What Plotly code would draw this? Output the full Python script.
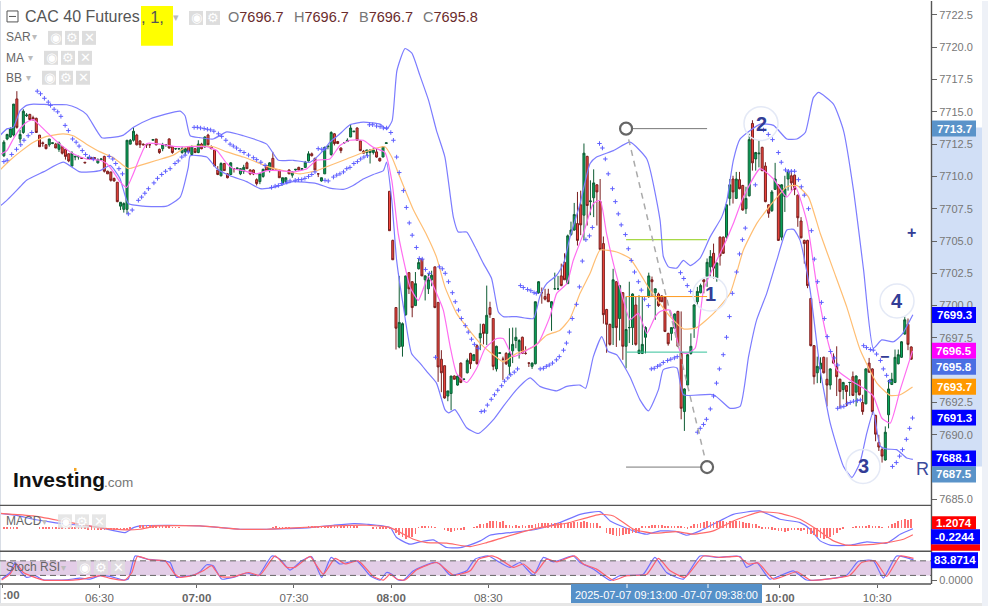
import plotly.graph_objects as go

# ---------- candles: one per minute, minutes are counted from 06:00 ----------
opens = [
7711.6,7712.9,7713.05,7713.2,7716.0,7712.9,7713.4,7714.7,7714.8,7714.55,
7714.5,7713.2,7712.6,7712.45,7712.45,7712.55,7712.5,7712.1,7712.3,7712.1,
7711.75,7710.8,7711.5,7711.5,7711.45,7711.1,7711.4,7711.45,7711.45,7711.05,
7711.3,7711.55,7710.4,7710.35,7709.85,7709.55,7707.7,7707.45,7707.45,7712.5,
7712.8,7713.2,7712.75,7712.5,7712.45,7712.45,7712.8,7712.9,7712.1,7712.15,
7712.45,7712.9,7712.3,7712.15,7712.15,7711.85,7711.9,7712.3,7711.7,7712.15,
7711.85,7712.5,7712.3,7713.2,7712.3,7712.05,7710.5,7710.05,7711.0,7710.2,
7710.15,7710.6,7710.6,7710.2,7710.4,7711.05,7710.5,7710.5,7709.75,7709.6,
7710.0,7710.85,7710.45,7711.4,7710.5,7710.5,7709.45,7709.6,7710.5,7710.1,
7710.5,7710.7,7710.55,7710.7,7711.2,7711.75,7711.4,7710.2,7709.65,7710.2,
7712.3,7711.7,7713.3,7712.7,7712.2,7712.6,7712.7,7713.05,7713.45,7713.75,
7712.75,7711.95,7711.85,7711.85,7711.85,7711.9,7711.4,7711.5,7712.55,7708.85,
7705.05,7699.85,7696.8,7696.85,7699.3,7702.55,7701.85,7700,7702.85,7703.6,
7702,7701.3,7702,7703,7700.25,7695.85,7695.35,7693,7693.2,7694.55,
7693.85,7695.55,7694.3,7694.8,7696.3,7695.75,7696.9,7697.5,7698.55,7697.85,
7699.85,7699,7695.1,7696.3,7695.85,7696.3,7695.3,7696.5,7697.3,7696.5,
7697.55,7696.3,7695.55,7695.3,7695.5,7701,7701,7700.7,7700.9,7699.85,
7701.3,7701.3,7702.3,7703.35,7701.7,7705.5,7705.85,7706.35,7707.8,7707,
7711.55,7708.05,7708.35,7709.35,7708.05,7704.8,7699.7,7698.55,7698.3,7701.85,
7699,7701,7696.85,7698.3,7698.3,7700.05,7696.3,7696.3,7697.55,7700.7,
7702,7701,7700.9,7700.75,7700.65,7697.85,7697.85,7698.25,7699.55,7696.3,
7691.8,7693.85,7696.3,7698.3,7700.3,7701,7702,7702.25,7703,7704.05,
7702.15,7705.3,7705.3,7705.3,7708.3,7709.8,7708.3,7709.75,7709.3,7707.5,
7708.5,7714.1,7711.35,7711.75,7712.25,7710.8,7707.8,7707.35,7709,7709.35,
7705.3,7708.45,7709.8,7710.05,7710.1,7708.55,7706.55,7705.05,7705.05,7700.55,
7696.9,7694.8,7695.1,7696,7694.3,7693.85,7695.85,7695.3,7694.3,7693.5,
7693.8,7694.05,7694.5,7693.3,7694.25,7692.5,7692.4,7695.55,7695.1,7691.5,
7689.4,7688.85,7688.05,7691.55,7693.9,7694.05,7695.5,7696,7697.8,7698.55,7696.8]
highs = [
7712.8,7713.3,7713.8,7715.6,7716.6,7713.6,7715.2,7714.9,7714.85,7714.7,
7714.55,7713.2,7712.7,7712.5,7712.9,7712.6,7712.6,7712.7,7712.3,7712.1,
7711.8,7711.95,7711.6,7711.6,7711.5,7711.1,7711.45,7711.5,7711.5,7711.4,
7711.4,7711.6,7710.45,7710.35,7709.9,7709.55,7708,7708,7712.8,7712.9,
7713.8,7713.3,7712.8,7712.55,7712.5,7712.5,7712.9,7712.9,7712.15,7712.6,
7712.5,7712.95,7712.35,7712.2,7712.2,7712.3,7712.2,7712.3,7712.4,7712.2,
7712.8,7712.6,7713.1,7713.3,7712.4,7712.1,7710.8,7711.1,7711.05,7710.25,
7711.1,7710.65,7710.65,7710.65,7710.9,7711.15,7710.55,7710.55,7709.85,7710.25,
7710.6,7710.9,7711.1,7711.9,7710.55,7710.55,7709.9,7709.9,7710.55,7710.4,
7710.55,7710.75,7710.65,7711.2,7711.95,7711.85,7711.45,7710.25,7709.9,7712.3,
7712.4,7713.5,7713.35,7712.75,7712.25,7712.65,7712.95,7714,7713.5,7713.8,
7712.8,7712.05,7712.05,7712.05,7712.2,7712.2,7711.45,7712.3,7712.6,7708.85,
7705.1,7699.85,7702.3,7698.7,7702.3,7702.6,7701.9,7702.6,7703.65,7703.6,
7702.35,7702.5,7702.7,7703,7700.25,7696.55,7695.35,7693.4,7694.55,7694.6,
7694.6,7695.6,7694.35,7695.9,7696.35,7696.25,7697,7698.6,7698.6,7701.55,
7700.3,7699,7696.9,7696.35,7696.05,7696.4,7698.25,7698.3,7698.3,7697.4,
7697.6,7696.85,7695.6,7695.6,7700.3,7701.9,7701.4,7701.3,7701.3,7700.35,
7702.55,7702.3,7703.25,7704.05,7705.5,7706.5,7707.95,7708.8,7708.9,7712.55,
7711.6,7709.7,7710.55,7709.4,7709.8,7705.35,7699.75,7698.6,7702.85,7701.9,
7701.6,7701.05,7700.7,7701.85,7700.95,7700.7,7700.8,7700.7,7698.4,7702.55,
7702.25,7701.35,7701,7700.8,7700.7,7697.9,7698.3,7699.4,7699.6,7699.55,
7693.6,7696.25,7697.85,7700.1,7701.45,7701.7,7702.05,7703.65,7704.3,7704.8,
7703.35,7705.35,7705.35,7707.85,7709.8,7710.05,7710.35,7710.35,7709.35,7709.2,
7713.3,7714.35,7711.9,7712.8,7712.3,7711.1,7707.85,7708.95,7711.05,7709.4,
7709.4,7710.05,7710.5,7710.45,7710.15,7708.6,7706.85,7705.1,7705.1,7700.6,
7696.95,7696.05,7696,7696.05,7696,7695.15,7696.3,7696.85,7694.35,7694.1,
7693.85,7694.1,7694.9,7694.6,7694.3,7693.1,7695.15,7695.95,7695.15,7691.55,
7690,7689.05,7690.65,7694.25,7694.8,7696.6,7696.6,7697.25,7699.15,7699,7696.85]
lows = [
7711.5,7712.8,7713,7713.1,7713.7,7712.6,7713.3,7714.6,7714.35,7714.3,
7713.4,7712.3,7712.3,7712.1,7712.3,7712.5,7712.2,7711.9,7711.7,7711.3,
7711.1,7710.8,7711.25,7711.3,7711.35,7711.05,7711.35,7711.35,7711.3,7711,
7711.25,7710.3,7710.2,7709.6,7709.6,7708,7707.4,7707.2,7707.1,7712.5,
7712.7,7712.4,7712.2,7712.4,7712.2,7712.2,7712.8,7712.4,7711.75,7711.95,
7712.3,7712.15,7711.75,7712.05,7712.05,7711.75,7711.7,7711.85,7711.6,7711.8,
7711.8,7712.1,7712.2,7712.4,7712.1,7710.8,7710.1,7710,7710.45,7709.85,
7710.1,7710.3,7710.55,7710.1,7710.2,7710.6,7710.1,7710.1,7709.3,7709.4,
7709.9,7710.45,7710.3,7710.55,7710.45,7709.9,7709.3,7709.45,7710.2,7709.9,
7710.45,7710.5,7710.5,7710.65,7711.15,7711.55,7710.5,7709.95,7709.6,7710.2,
7712.1,7711.6,7712.4,7712.5,7711.8,7712.6,7712.7,7713.05,7713.45,7712.75,
7711.95,7711.8,7711.6,7711,7711.7,7711.45,7711.15,7711.5,7712.55,7705.8,
7703.55,7696.6,7696.7,7696.05,7699.2,7700.9,7699.1,7700,7702.8,7702.3,
7700.4,7700.9,7701.5,7699.8,7694.1,7693.3,7692.8,7692.6,7691.9,7694.3,
7693.8,7694,7694.3,7694.75,7695.1,7695.7,7695.45,7696.55,7697,7696.95,
7699.05,7695,7694.9,7696.3,7694.25,7695.4,7694.6,7695.55,7696.7,7695.9,
7696.25,7696.2,7695.25,7695.1,7695.45,7700.9,7700.15,7700.4,7700.3,7698.05,
7701.25,7701.2,7701.5,7702,7701.7,7705.4,7705.8,7704.65,7705.45,7705.05,
7706.2,7707,7706.85,7706.2,7704.3,7698.6,7696.35,7696.9,7696.95,7696.8,
7697.3,7695.8,7695.15,7697.1,7696.95,7696.9,7696.25,7696.25,7696.3,7700.6,
7700.7,7698.9,7699.9,7700.3,7697.95,7696.9,7697.3,7698.2,7696.8,7691.2,
7690.3,7693.8,7696.2,7697.5,7700.05,7700.95,7700.95,7701.45,7702.25,7702.1,
7701.85,7703.1,7704,7705.05,7707.75,7707.9,7708.25,7709,7707.35,7707.1,
7708.45,7710.45,7710.45,7710.7,7710.4,7708,7706.8,7707.25,7708.95,7705,
7705.05,7707.25,7708.9,7708.9,7708.55,7706.1,7705.2,7703.25,7701.35,7696.85,
7693.9,7694,7694,7694.75,7692.2,7693.5,7695.5,7693,7692.05,7692.75,
7692.2,7693,7693,7692.2,7693.05,7691.55,7692.35,7694.8,7691.55,7689.5,
7688.75,7687.85,7688,7690.5,7693.85,7694,7695.45,7695.95,7697.75,7696.55,7695.8]
closes = [
7712.65,7713.25,7713.7,7715.6,7713.8,7713.25,7715.05,7714.75,7714.4,7714.4,
7713.4,7712.3,7712.55,7712.15,7712.9,7712.6,7712.2,7712.6,7711.8,7711.55,
7711.2,7711.8,7711.55,7711.55,7711.4,7711.05,7711.45,7711.4,7711.4,7711.3,
7711.35,7710.4,7710.2,7709.7,7709.65,7708.05,7708,7707.9,7712.8,7712.8,
7713.5,7712.45,7712.45,7712.45,7712.45,7712.45,7712.85,7712.45,7711.85,7712.45,
7712.45,7712.2,7711.85,7712.15,7712.15,7712.15,7712.15,7711.9,7712.3,7711.85,
7712.5,7712.15,7713.05,7712.45,7712.15,7710.8,7710.15,7711,7710.45,7709.9,
7711.05,7710.6,7710.65,7710.6,7710.7,7710.6,7710.2,7710.2,7709.45,7710.2,
7710.55,7710.45,7711.05,7710.55,7710.5,7709.9,7709.9,7709.9,7710.2,7710.35,
7710.55,7710.5,7710.6,7711.1,7711.75,7711.6,7710.5,7710.2,7709.9,7712.25,
7712.35,7713.4,7712.55,7712.55,7712,7712.6,7712.8,7713.75,7713.5,7712.8,
7712,7711.8,7712.05,7712.05,7712.05,7711.5,7711.2,7712.3,7712.6,7705.8,
7703.55,7698.25,7698.7,7698.6,7702.3,7701.3,7699.85,7701.7,7703.33,7702.3,
7702.3,7702,7702.35,7699.85,7695.25,7694.8,7692.85,7693.4,7694.55,7694.3,
7694.55,7694.05,7694.3,7695.75,7695.5,7696.2,7695.5,7697.85,7697.85,7699.25,
7699.3,7695.3,7696.85,7696.35,7695.85,7695.5,7696.3,7697,7697.55,7697.3,
7696.3,7696.3,7695.55,7695.55,7700.3,7701.85,7701,7700.5,7700.3,7700.3,
7701.3,7701.3,7701.55,7702,7705.4,7705.85,7707.05,7705.05,7706.25,7711.8,
7707.75,7708.1,7709.5,7708.8,7704.35,7699.3,7698.55,7697,7702,7698.3,
7701.55,7696.85,7698.15,7698.3,7700.9,7697,7696.55,7697,7698.3,7702.3,
7701.85,7701.3,7700,7700.3,7698,7697.05,7698.3,7699.35,7696.85,7692.05,
7693.55,7696.2,7696.85,7700.05,7701.1,7701.55,7701.85,7703.35,7703.8,7702.9,
7703.3,7703.85,7704.05,7707.8,7709.35,7708.8,7709.8,7709.05,7707.4,7708.3,
7712.85,7711.05,7711.85,7711.8,7710.45,7708.05,7707.15,7708.8,7709.8,7705.05,
7709.35,7709.05,7710.35,7709.5,7709,7706.8,7705.25,7704.8,7701.55,7696.9,
7694.5,7695.3,7695.55,7694.8,7693.85,7695.1,7695.55,7694.5,7693.35,7694.05,
7693.35,7694.05,7693.05,7694.55,7693.1,7691.8,7695.1,7694.85,7691.8,7690.05,
7689.05,7688.35,7690.2,7693.55,7694.3,7696,7696.2,7697.2,7698.9,7697,7695.85]
candle_minutes = [i + 0.5 for i in range(len(opens))]

# ---------- Bollinger bands ----------
bb_up_t = [-0.7,1.4,3.4,5.5,7.5,9.6,14.7,19.9,23,26,30.7,33.3,37.4,40.5,45.6,54.9,56.4,58,61,65.1,69.3,74.4,81.6,85.2,89.8,95,99.6,
101.1,104.2,107.3,111.4,116.6,118.6,120.3,121.8,124.3,126.4,128.9,131.6,134,136.6,139.2,140.7,143.3,145.9,148.5,151,153.1,154.6,158.7,163.9,165.9,168,171.1,173.2,175.2,178.3,181.4,183.4,188.6,193.7,198.9,
203,204,205.6,208.1,210.2,212.3,215.3,218.4,222,223.6,225.6,227.7,233.9,238,242.1,245.2,247.8,250.3,251.9,256.5,259.6,262.7,265.8,268.8,271.4,275,277.6,281]
bb_up_v = [7713.17,7713.68,7713.8,7715.1,7715.5,7715.6,7715.55,7715.55,7715.3,7714.8,7713,7713,7713.2,7713.8,7714.45,7715.05,7714.7,7713.15,7713,7712.9,7713.45,7713.15,7712.5,7711.25,7711.25,7711.1,7712.15,
7712.65,7713.3,7714,7714.2,7714.05,7713.65,7714.3,7718.2,7719.9,7719.55,7717.8,7715.85,7713.55,7711.5,7706.85,7705.7,7705.7,7704.55,7703.25,7702.1,7699.5,7699.15,7699.15,7699,7700.7,7701.7,7702.35,7703.25,7705.3,7707.9,7711,7711.5,7712,7712.65,7711.35,
7706.6,7703.8,7703,7702.9,7703.5,7703.1,7703.65,7705.3,7706.85,7708.15,7711.25,7712.9,7714.05,7713.95,7712.9,7712.9,7713.4,7716.1,7716.5,7715.6,7713.55,7708.9,7702.75,7696.7,7697.35,7697.2,7697.75,7699.3]
bb_lo_t = [-0.7,1.4,3.4,5.5,7.5,12.7,18.8,24,30.2,33.3,36.3,38.9,43.5,50.7,54.9,57.4,58,63.1,66.2,70.3,75.4,79.6,83.7,89.8,97,
101.1,105.2,108.3,111.4,114.5,117.6,118.6,120.2,121.7,123.8,126.3,128.9,131.5,134,136.6,137.7,139.7,143.3,146.9,151.5,154.6,158.7,162.9,165.9,171.1,174.2,178.3,180,182.4,185,187,189.6,193.7,196.8,199.4,202.5,
204,207.1,208.3,210.2,219.5,224.6,227.7,230.3,232.8,235.9,239,242.1,244.2,246.2,249.3,252.4,255.5,259.6,262.2,264.7,266.8,268.8,270.9,273,276,279.1,281]
bb_lo_v = [7707.7,7708.15,7708.65,7709.2,7709.7,7710.35,7711.1,7710.35,7710.45,7710.85,7709.85,7707.9,7707.7,7707.7,7708.4,7710.7,7711.6,7711.5,7710.6,7710.05,7709.6,7709.05,7709.15,7709.6,7709.45,
7709.1,7709,7709.3,7709.8,7710.15,7710.45,7711.1,7708.15,7703.5,7699.9,7696.3,7695.55,7694.75,7694,7691.95,7691.7,7691.95,7690.55,7690.1,7691.15,7692.2,7693.5,7694.4,7693.75,7693.4,7693.75,7693.85,7693.6,7696.05,7697.6,7696.45,7696.2,7694.5,7692.7,7691.85,7693.5,
7695.05,7695.25,7695.15,7693.1,7693.1,7692.05,7692.2,7696.05,7698.9,7700.95,7703.5,7705.85,7705.9,7705.05,7701.2,7695.05,7690.9,7687.55,7686.7,7687.85,7690.15,7691.8,7689.15,7688.9,7688.85,7688.2,7688.1]

# ---------- moving averages ----------
ma_fast_t = [-0.7,1.4,3.4,5.5,7.5,9.6,11.6,14.7,17.8,21.9,26,30.2,32.2,34.3,36.3,38.4,40,42.5,44.6,48.7,53.8,58,63.1,66.2,69.3,71.3,74.4,78.5,81.6,85.7,89.8,94,97,
101.1,104.2,107.3,111.4,114.5,118.1,120.2,122.2,124.3,125.8,128.4,131.5,134,136.1,138.2,140.2,143.3,146.4,149,152.6,154.6,157.7,162.9,165.4,169,171.1,174.2,176.2,179.3,182.4,184.5,186.5,189.1,191.7,193.7,196.3,198.9,201.5,203,
206.1,209.2,211.2,213.8,216.4,219.5,222.5,225.6,228.7,233.9,238,242.1,244.7,248.3,251.4,254.4,257.5,261.6,265.8,268.8,271.4,274,277.1,280.9]
ma_fast_v = [7711.7,7712,7712.9,7713.7,7714.2,7714.4,7713.95,7713.2,7712.5,7711.75,7711.35,7711.25,7711,7710.35,7709.6,7709.15,7709.95,7711.5,7712.55,7712.5,7712.3,7712.3,7712.3,7712,7711,7710.6,7710.45,7710.2,7710.45,7710.45,7710.35,7710.6,7711.25,
7711.35,7712.4,7712.8,7712.8,7712.25,7711.85,7709.7,7705.55,7703,7701.45,7700.4,7702.25,7700.95,7699.65,7696.85,7694.75,7694.05,7695.15,7696.7,7697.45,7697.45,7696.05,7696.7,7697.1,7699.15,7700.95,7701.7,7703.5,7705.55,7707.9,7708.15,7705.55,7702.75,7700.4,7698.9,7699.4,7697.85,7699.15,7699.55,
7699.65,7696.45,7696.3,7696.7,7701.2,7703,7704.55,7706.35,7708.4,7710.6,7709.8,7708.4,7709.2,7706.5,7701.45,7697.6,7695.05,7694.25,7693.6,7693,7691.3,7690.9,7693.5,7696.5]
ma_slow_t = [-0.7,2.4,5.5,9.6,13.7,18.8,21.9,26,30.2,34.3,37.4,38.9,42.5,47.7,52.8,56.9,60,65.1,69.3,74.4,79.5,82.6,86.7,91.9,97,
101.1,106.3,111.4,118.1,120.2,122.7,126.9,131,134,136.6,140.2,143.3,147.4,151.5,154.6,158.7,163.9,168,172.1,175.2,178.3,181.4,184.5,189.6,193.7,196.8,199.9,203,
206.1,210.2,214.3,219.5,224.6,228.7,232.8,237,242.1,245.2,248.8,252.4,256.5,260.6,264.7,269.9,274,277.1,280.9]
ma_slow_v = [7710.5,7711.25,7711.9,7712.65,7713.1,7713.3,7713.15,7712.5,7711.9,7711.45,7710.85,7710.6,7710.85,7711.25,7711.65,7712.3,7712.35,7712.3,7711.9,7711.5,7711,7710.7,7710.45,7710.2,7710.45,
7710.85,7711.35,7711.85,7712.3,7711.5,7709.95,7707.4,7705.45,7703.75,7701.45,7699.4,7698.35,7697.1,7696.2,7695.65,7696.3,7696.8,7697.7,7698.1,7699,7700.95,7702.5,7704.3,7704.15,7703.65,7702.5,7701.2,7700.15,
7699.15,7698.2,7698.3,7699.4,7700.95,7704.3,7706.35,7707.75,7709.2,7709.3,7708.4,7705.6,7702.75,7699.9,7696.6,7694,7693.05,7693.1,7693.7]

# ---------- parabolic SAR ----------
sar_t = [0.5,1.5,2.9,4.4,5.7,6.7,8,9.1,10.8,11.8,13,14.2,14.9,16,17.1,18.1,19.4,20.4,21.7,22.8,23.7,24.7,25.7,26.9,28.1,33,34.1,35,36,37.1,
38.9,40.1,42,43,44,45.1,46.8,47.9,49.2,50.4,51.8,53.3,54.3,55.4,56.4,57.4,
59.2,60.2,61.2,62.3,63.3,64.3,65.3,66.7,67.7,69,70.3,71.3,72.3,73.4,74.6,76,77.5,78.5,79.8,81.1,
83.1,84.2,85.2,86.2,87.8,88.8,90.4,91.4,92.4,93.4,94.5,95.5,96.5,97.5,98.6,99.6,
99.6,100.6,102.2,103.2,104.2,105.3,106.3,107.3,108.5,109.6,110.6,111.6,112.7,
113.3,114.3,115.5,116.6,117.6,118.6,119.9,120.7,121.7,122.5,123.8,124.7,125.6,126.5,127.8,128.7,129.6,130.6,131.8,133.7,134.9,135.8,136.7,137.7,138.9,139.8,140.8,141.7,142.9,143.8,144.8,145.7,146.9,
147.8,148.8,149.7,150.9,151.9,152.9,154.1,155,156,156.9,158,159,
159.9,160.8,162.1,163.1,164.1,164.8,
166,167,167.9,168.8,169.8,171,171.9,173.2,174.1,175,175.9,177.2,178.1,179,180.1,181.2,182.1,
184.3,185.2,186.1,187,188.3,189.2,190.1,191,192.3,193.2,194.1,195.1,196.3,197.2,198.2,199.4,
200.3,201.2,202.2,203,204,205.3,206.3,207.4,208.3,
209.3,210.3,211.4,212.4,
214.5,215.4,216.4,217.3,218.5,219.5,220.4,221.3,222.5,223.5,224.4,225.3,226.6,227.5,228.4,229.3,232.4,
234.9,236.4,237.7,239.5,240.4,241.7,242.6,243.5,244.5,245.7,246.6,247.5,248.8,249.7,250.6,251.6,252.8,253.7,254.6,255.6,256.8,257.8,
257.8,258.8,259.7,260.8,261.7,262.7,263.9,264.8,
265.8,266.7,267.9,268.8,269.8,271,271.9,272.9,273.8,
274.7,275.9,276.9,277.8,279,280,280.9]
sar_v = [7711.15,7711.25,7711.7,7712.1,7712.45,7712.8,7713.15,7713.4,7716.6,7716.4,7716.05,7715.75,7715.5,7715.2,7715,7714.65,7713.95,7713.55,7712.9,7712.65,7712.35,7712,7711.7,7711.5,7711.35,7711.55,7711.35,7711,7710.6,7710.2,
7707.1,7707.4,7708.15,7708.4,7708.7,7709.05,7709.5,7709.85,7710.15,7710.4,7710.6,7711,7711.2,7711.5,7711.65,7711.9,
7713.8,7713.8,7713.75,7713.7,7713.65,7713.6,7713.5,7713.3,7713.1,7712.8,7712.5,7712.35,7712.2,7712,7711.85,7711.65,7711.45,7711.3,7711.1,7710.85,
7709.15,7709.25,7709.3,7709.45,7709.55,7709.65,7709.7,7709.75,7709.75,7709.85,7710,7710.15,7710.35,7712.15,7712.1,7712.15,
7709.7,7709.65,7709.95,7710.1,7710.2,7710.35,7710.6,7710.7,7711,7711.15,7711.35,7711.5,7711.6,
7714,7714,7713.9,7713.85,7713.75,7713.75,7713.4,7712.8,7711.5,7710.3,7708.9,7707.6,7706.4,7705.45,7704.5,7703.65,7703.6,7702.8,7702.5,7696,7703,7702.85,7702.5,7701.85,7701,7700.3,7699.65,7699,7698.45,7697.95,7697.4,7697,7696.7,
7691.8,7691.85,7692.3,7692.75,7693.1,7693.45,7693.8,7694.15,7694.4,7694.65,7694.85,7695.1,
7701.55,7701.4,7701.25,7701.15,7701,7700.95,
7695.1,7695.15,7695.3,7695.4,7695.55,7695.8,7696.05,7696.55,7697.1,7697.95,7699,7700.1,7701.45,7703.45,7705.1,7705.4,7706.05,
7712.55,7712.2,7711.35,7710.2,7709.05,7708.05,7707.1,7706.25,7705.5,7704.4,7703.5,7702.6,7701.85,7701.2,7700.5,7700,
7695.1,7695.15,7695.3,7695.4,7695.6,7695.75,7695.85,7695.95,7696.05,
7702.55,7702.1,7701.55,7701.1,
7690.2,7690.5,7690.8,7691.2,7692,7693,7694,7695.1,7696.2,7697.55,7699.15,7700.95,7702.6,7704,7705.1,7706,7709.35,
7713.6,7713.25,7712.85,7711.85,7711.1,7710.5,7710.4,7710.4,7710.4,7709.75,7709.2,7708.55,7707.5,7705.8,7703.6,7701.85,7700.25,7699,7697.6,7696.45,7695.95,7695.4,
7692.05,7692.15,7692.2,7692.4,7692.5,7692.6,7692.65,7692.7,
7696.9,7696.75,7696.6,7696.55,7696.25,7695.75,7695.1,7694.6,7694.15,
7687.55,7687.85,7688.35,7688.85,7689.65,7690.5,7691.3]

# ---------- drawing tool ----------
tool_t = [192.5, 217.5]
tool_ends = [7713.7, 7687.5]
fib_levels = [7713.7, 7705.1, 7700.7, 7696.4, 7687.5]
fib_colors = ["#777777", "#8fce12", "#ff9a1f", "#35c29a", "#777777"]

# ---------- MACD ----------
macd_t = [-0.7,4.4,9.6,14.7,19.9,25,30.2,37.9,40.5,42.5,50.7,61,67.2,73.4,81.6,87.8,95,102.2,108.4,112.5,119.7,121.7,125.8,128.9,133,137.2,141.3,144.4,147.5,150.5,
153.6,159.8,164.9,172.1,178.3,184.5,187.6,194.8,198.9,203,208.1,211.2,215.3,219.4,225.6,233.8,240,246.2,249.3,252.4,255.5,261.6,266.8,272.9,277.1,281]
macd_v = [2.88,2.48,1.68,1.15,0.68,0.48,0.01,-0.99,0.01,0.35,0.48,0.35,0.01,-0.32,-0.32,-0.19,0.01,0.48,0.81,0.68,0.01,-1.99,-3.32,-2.85,-2.45,-3.99,-3.99,-3.45,-2.65,-1.52,
-1.19,-0.79,-0.32,1.01,2.68,3.21,1.35,-0.65,-1.32,-0.65,-0.79,-1.52,-0.65,0.68,2.68,3.35,1.68,1.01,-0.32,-2.65,-3.52,-3.52,-2.85,-3.12,-1.32,-0.22]
signal_t = [-0.7,9.6,19.9,30.2,37.9,42.5,47.7,61,73.4,81.6,91.9,102.2,112.5,119.7,126.9,131,137.2,144.4,149.5,
153.6,159.8,165.9,174.2,184.5,188.6,194.8,200.9,208.1,213.3,219.4,225.6,233.8,240,246.2,251.3,256.5,260.6,264.7,272.9,278.1,281]
signal_v = [2.88,2.35,1.15,0.01,-0.45,-0.32,0.35,0.35,-0.32,-0.32,0.01,0.35,0.48,0.01,-2.32,-2.99,-3.12,-3.79,-2.99,
-2.19,-0.99,0.01,0.88,2.68,2.35,-0.32,-1.12,-0.79,-1.32,-0.65,1.35,3.15,2.88,1.68,-0.32,-2.65,-3.52,-3.52,-2.99,-2.32,-1.43]
macd_hist = [
-.1,-.1,-.1,-.1,-.1,0,0,0,0,0,
0,-.1,-.1,-.1,-.1,-.1,-.15,-.15,-.15,-.15,
-.15,-.2,-.2,-.2,-.2,-.2,-.25,-.25,-.25,-.25,
-.25,-.3,-.3,-.3,-.3,-.3,-.35,-.35,-.35,-.2,
0,0,.4,.45,.45,.4,.4,.4,.35,.35,
.15,.15,.1,.1,.05,0,0,0,0,0,
0,0,0,0,0,0,0,0,0,0,
0,0,0,0,0,0,0,0,0,0,
0,0,0,.1,.15,.1,.1,-.1,-.1,0,
0,0,.1,.1,.15,.15,.15,.1,.2,.25,
.25,.2,.3,.3,.35,.35,.3,.35,.25,.2,
0,0,0,0,-.1,-.1,-.1,-.1,-.1,-.1,
0,-.7,-1,-1.3,-1.5,-1.3,-1.2,-.8,.1,.2,
.3,.25,.2,.1,0,0,-.3,-.45,-.5,-.4,
-.35,-.3,-.25,0,0,.1,.3,.5,.6,.7,
.9,1,1,.85,.9,.4,.35,.3,.35,.3,
.35,.3,.35,.4,.5,.7,.75,.65,.7,.65,
.7,.65,.7,.75,.7,.75,.8,.85,.8,.9,
.8,.75,.7,.65,.2,0,-.7,-.9,-1,-1.15,
-1.1,-1.05,-.9,-.8,-.7,-.7,-.5,.2,.2,.3,
.4,.45,.4,.35,.3,.25,.2,.2,.2,.15,
.1,-.1,.2,.5,.6,.7,.8,.9,.8,.85,
.9,.95,.9,.85,1,.9,.95,.9,.8,.75,
.7,.6,.5,.2,-.1,-.15,-.2,-.25,-.3,-.4,
-.45,-.5,-.4,-.35,-.3,-.35,-.4,-.35,-.8,-.9,
-1,-1.2,-1.4,-1.5,-1.4,-1.2,-1,-.7,-.3,-.2,
0,0,.1,.15,.2,.25,.3,.35,.3,.25,
.15,.1,0,.3,.5,.7,.9,1.1,1.2,1.1,1.21]

# ---------- Stochastic RSI ----------
stoch_k_t = [-0.2,2.4,3.9,5.5,7.5,10.1,12.7,19.9,24,27.1,30.2,33.3,37.4,38.9,41,44.6,49.7,51.8,53.8,55.9,59,61,63.1,65.1,67.7,71.3,75.4,79,83.2,85.7,88.8,92.4,95.5,98.6,101.5,104.2,109.4,113.5,116.6,118.6,120.2,122.2,123.8,126.9,133,135.1,138.2,143.3,145.9,150,153.6,
156.7,159.8,163.9,167,170.1,176.2,178.3,182.4,187.6,190.6,197.8,201.4,205,210.2,215.3,220.5,227.7,229.7,232.8,236.9,244.1,248.2,254.4,260.6,264.2,268.8,271.9,276,281.2]
stoch_k_v = [5,32,73,39,12,19,2,2,9,5,19,16,1,5,100,87,80,73,12,16,21,35,64,60,5,12,30,19,100,87,42,80,97,12,94,67,80,19,1,32,25,1,0,39,73,67,21,39,87,100,73,
53,73,21,94,76,100,73,46,0,19,25,94,32,5,100,94,98,53,73,5,39,1,5,21,78,80,9,100,83.87]
stoch_d_t = [-0.2,2.4,4.4,6.5,8.6,12.7,21.9,26,30.2,33.3,37.9,40,41.7,45.6,50.2,53.3,54.9,59,62,64.6,67.2,71.3,75.9,79.5,84.2,87.8,90.3,95,97,99.1,102.7,105.8,109.9,114.5,117.6,119.7,121.7,124.3,127.9,134.1,139.2,144.4,147,151.1,153.6,
157.7,160.8,164.4,168,171.1,176.7,179.3,183.4,188.6,192.7,198.9,202.5,206.1,210.7,216.4,221.5,227.2,230.2,233.3,238,245.2,249.3,256.5,261.6,265.2,269.3,272.9,277.1,281.2]
stoch_d_v = [1,25,67,32,19,1,1,8,19,8,1,32,98,84,80,25,12,21,39,60,16,14,32,21,100,53,53,98,60,25,90,67,80,16,1,25,5,1,43,73,21,39,87,100,87,
53,67,30,87,76,100,67,46,0,19,25,90,39,12,100,94,98,67,71,5,35,1,8,21,73,80,16,100,90]

# ---------- axis labels ----------
price_ticks = [7685,7687.5,7690,7692.5,7695,7697.5,7700,7702.5,7705,7707.5,7710,7712.5,7715,7717.5,7720,7722.5]
price_labels = ["7685.0","","7690.0","7692.5","","7697.5","7700.0","7702.5","7705.0","7707.5","7710.0","7712.5","7715.0","7717.5","7720.0","7722.5"]
time_ticks = [0,30,60,90,120,150,180,193,218,240,270]
time_labels = ["","06:30","<b>07:00</b>","07:30","<b>08:00</b>","08:30","<b>09:00</b>","","","<b>10:00</b>","10:30"]

W, H = 1003, 607
FONT = "Liberation Sans"
def fx(px): return px / W
def fy(py): return 1 - py / H

fig = go.Figure()

def line(t, v, color, yaxis="y", width=1.2, smooth=True):
    fig.add_trace(go.Scatter(x=t, y=v, mode="lines", yaxis=yaxis, hoverinfo="skip", showlegend=False,
        line=dict(color=color, width=width, shape="spline" if smooth else "linear", smoothing=0.5)))

line(bb_up_t, bb_up_v, "#7c7cff")
line(bb_lo_t, bb_lo_v, "#7c7cff")
line(ma_slow_t, ma_slow_v, "#ffbe73")
line(ma_fast_t, ma_fast_v, "#ff6df0")
fig.add_trace(go.Scatter(x=sar_t, y=sar_v, mode="markers", showlegend=False, hoverinfo="skip",
    marker=dict(symbol="cross-thin", size=3.2, line=dict(color="#5f5fff", width=1))))
fig.add_trace(go.Candlestick(x=candle_minutes, open=opens, high=highs, low=lows, close=closes, showlegend=False,
    whiskerwidth=0, hoverinfo="skip",
    increasing=dict(line=dict(color="#0f5c34", width=1), fillcolor="#08a85c"),
    decreasing=dict(line=dict(color="#7a1f1f", width=1), fillcolor="#f4483e")))

for lvl, c in zip(fib_levels, fib_colors):
    line(tool_t, [lvl, lvl], c, width=1, smooth=False)
fig.add_trace(go.Scatter(x=tool_t, y=tool_ends, mode="lines", showlegend=False, hoverinfo="skip",
    line=dict(color="#aaaaaa", width=1.5, dash="6px,5px")))
fig.add_trace(go.Scatter(x=tool_t, y=tool_ends, mode="markers", showlegend=False, hoverinfo="skip",
    marker=dict(symbol="circle", size=12, color="white", line=dict(color="#666666", width=2.2))))

line(macd_t, macd_v, "#7474ff", yaxis="y2")
line(signal_t, signal_v, "#ff6a6a", yaxis="y2")
fig.add_trace(go.Bar(x=candle_minutes, y=macd_hist, yaxis="y4", width=0.2, showlegend=False, hoverinfo="skip",
    marker=dict(color="#ff7070", line=dict(width=0))))
line(stoch_k_t, stoch_k_v, "#6f6fff", yaxis="y3")
line(stoch_d_t, stoch_d_v, "#ff5f6f", yaxis="y3")

shapes, notes = [], []

def rect(x0, y0, x1, y1, fill, layer="above", border=None, opacity=1):
    shapes.append(dict(type="rect", xref="paper", yref="paper", x0=fx(x0), x1=fx(x1), y0=fy(y1), y1=fy(y0),
                       fillcolor=fill, layer=layer, opacity=opacity,
                       line=dict(color=border or fill, width=1 if border else 0)))

def hline(x0, y0, x1, y1, color, width=1, layer="above"):
    shapes.append(dict(type="line", xref="paper", yref="paper", x0=fx(x0), x1=fx(x1), y0=fy(y0), y1=fy(y1),
                       layer=layer, line=dict(color=color, width=width)))

def text(x, y, s, size=12, color="#666666", anchor="center", family=FONT):
    notes.append(dict(xref="paper", yref="paper", x=fx(x), y=fy(y), text=s, showarrow=False, xanchor=anchor,
                      yanchor="middle", font=dict(size=size, color=color, family=family),
                      borderpad=0, borderwidth=0, align="left"))

def icons(xs, y, opacity=1, glyphs=("◉", "⚙", "✕")):
    for x0, g in zip(xs, glyphs):
        rect(x0, y, x0 + 14, y + 14, "#dddddd", opacity=opacity)
        text(x0 + 7, y + 7, g, size=13, color="#ffffff", family="DejaVu Sans")

# page edges
rect(982, 0, 988, H, "#eef1f7")
rect(0, 604, 982, H, "#e6e6e6")
rect(0, 0, 1, 604, "#d8dde5")
# range band beside the price axis
rect(932, 127, 982, 467, "#d1dff6", layer="below")
# stochastic band
shapes.append(dict(type="rect", xref="x domain", yref="y3", x0=0, x1=1, y0=20, y1=80,
                   fillcolor="#e3cde7", layer="below", line=dict(width=0)))
for lvl in (20, 80):
    shapes.append(dict(type="line", xref="x domain", yref="y3", x0=0, x1=1, y0=lvl, y1=lvl, layer="above",
                       line=dict(color="#666666", width=1, dash="6px,4px")))
# frame
hline(0, 506, 931, 506, "#555555", 1.4)
hline(0, 552, 931, 552, "#555555", 1.4)
hline(0, 585, 931, 585, "#555555", 1.4)
hline(931.5, 0, 931.5, 585, "#555555", 1.4)

# header
rect(141, 5, 173, 45, "#ffff00")
rect(7, 10, 18, 21, "#ffffff", border="#555555")
hline(9, 15.5, 16, 15.5, "#555555")
text(25, 16, "CAC 40 Futures", size=16, color="#555555", anchor="left")
text(141, 16, ", 1,", size=16.5, color="#555555", anchor="left")
text(176, 16, "▾", size=11, color="#bbbbbb")
icons([189, 206], 10, glyphs=("◉", "⚙"))
for x0, o, p, v in [(228, "O", "#777777", "7696.7"), (294, "H", "#777777", "7696.7"),
                    (359, "B", "#777777", "7696.7"), (423, "C", "#777777", "7695.8")]:
    text(x0, 16, f"<span style='color:{p}'>{o}</span>{v}", size=14.5, color="#6b2c2c", anchor="left")
text(6, 36, "SAR", color="#666666", anchor="left")
text(34, 36, "▾", size=10, color="#bbbbbb")
icons([48, 65, 82], 30)
text(6, 57, "MA", color="#666666", anchor="left")
text(30, 57, "▾", size=10, color="#bbbbbb")
icons([44, 61, 78], 50)
text(6, 77, "BB", color="#666666", anchor="left")
text(28, 77, "▾", size=10, color="#bbbbbb")
icons([42, 59, 76], 70)

# logo
text(13, 480, "<b>Investing</b>", size=21, color="#111111", anchor="left")
text(103.5, 483, ".com", size=13.5, color="#777777", anchor="left")
rect(74, 468.5, 76.5, 471.5, "#f5a623")

# sub-panel headers
text(6, 522, "MACD", size=12, color="#666666", anchor="left")
text(44, 522, "▾", size=10, color="#bbbbbb")
icons([58, 75, 92], 515, opacity=0.75)
text(6, 568, "Stoch RSI", size=12, color="#666666", anchor="left")
text(63, 568, "▾", size=10, color="#bbbbbb")
icons([77, 94, 111], 561, opacity=0.75)

# wave labels
for cx, cy, s in [(710, 294, "1"), (761, 123, "2"), (863, 467, "3"), (897, 301, "4")]:
    shapes.append(dict(type="circle", xref="paper", yref="paper", x0=fx(cx - 17), x1=fx(cx + 17),
                       y0=fy(cy + 17), y1=fy(cy - 17), layer="above", line=dict(color="#e4e9f6", width=1.5)))
    text(cx, cy, f"<b>{s}</b>", size=20, color="#333d96")
text(911, 232, "<b>+</b>", size=16, color="#333d96")
text(884, 357, "<b>−</b>", size=16, color="#333d96")
text(922, 470, "R", size=18, color="#3b4a9c")

# price tags
for y0, y1, s, c in [(120, 136, "7713.7", "#5a93c9"), (307, 323, "7699.3", "#0000ff"),
                     (343, 359, "7696.5", "#ff00ff"), (359, 375, "7695.8", "#4a6fe3"),
                     (379, 395, "7693.7", "#ff9800"), (410, 426, "7691.3", "#0000ff"),
                     (451, 467, "7688.1", "#0000ff"), (467, 483, "7687.5", "#5a93c9")]:
    rect(932, y0, 976, y1, c)
    text(954, (y0 + y1) / 2, f"<b>{s}</b>", size=11.5, color="#ffffff")
rect(932, 517, 976, 530, "#ff0000")
text(954, 523.5, "<b>1.2074</b>", size=11.5, color="#ffffff")
rect(931, 545, 980, 551.5, "#ff0000")
rect(931, 530, 980, 545, "#0000ff")
text(955, 538, "<b>-0.2244</b>", size=11.5, color="#ffffff")
rect(931, 553, 978, 569, "#0000ff")
text(954.5, 561, "<b>83.8714</b>", size=11.5, color="#ffffff")
rect(932, 585.5, 982, 604, "#ffffff")  # trims the 0.0000 label as in the source

# clipped first time label and selected time range box
text(3, 596, "<b>:00</b>", size=11.5, color="#666666", anchor="left")
rect(571, 585, 762, 604, "#5590c8")
hline(627, 585, 627, 589, "#ffffff")
hline(708, 585, 708, 589, "#ffffff")
text(666.5, 596, "2025-07-07 09:13:00 -07-07 09:38:00", size=11, color="#ffffff")

tick = dict(size=11, color="#777777", family=FONT)
fig.update_layout(
    width=W, height=H, margin=dict(l=0, r=0, t=0, b=0), autosize=False,
    paper_bgcolor="white", plot_bgcolor="white", showlegend=False, hovermode=False,
    font=dict(family=FONT), bargap=0, boxgap=0.12, shapes=shapes, annotations=notes,
    xaxis=dict(domain=[0, 931 / W], range=[-0.7, 286.6], anchor="y3", tickmode="array",
               tickvals=time_ticks, ticktext=time_labels, ticks="outside", ticklen=3, tickcolor="#666666",
               showgrid=False, zeroline=False, showline=False, tickfont=dict(size=11.5, color="#666666", family=FONT),
               tickangle=0, rangeslider=dict(visible=False)),
    yaxis=dict(domain=[fy(506), 1], range=[7684.54, 7723.58], side="right", anchor="x", tickmode="array",
               tickvals=price_ticks, ticktext=price_labels, ticks="outside", ticklen=5,
               tickcolor="#666666", showgrid=False, zeroline=False, tickfont=tick),
    yaxis2=dict(domain=[fy(552), fy(506)], range=[-4.72, 4.48], side="right", anchor="x",
                showticklabels=False, ticks="", showgrid=False, zeroline=False),
    yaxis4=dict(domain=[fy(552), fy(506)], range=[-3.19, 3.19], overlaying="y2", anchor="x", side="right",
                visible=False, showgrid=False, zeroline=False),
    yaxis3=dict(domain=[fy(585), fy(552)], range=[-15.6, 119.7], side="right", anchor="x", tickmode="array",
                tickvals=[0], ticktext=["0.0000"], ticks="outside", ticklen=5, tickcolor="#666666",
                showgrid=False, zeroline=False, tickfont=tick),
)

fig.write_html("out.html", config=dict(displayModeBar=False),
               post_script="document.body.style.margin='1px 0 0 0';document.body.style.overflow='hidden';")
